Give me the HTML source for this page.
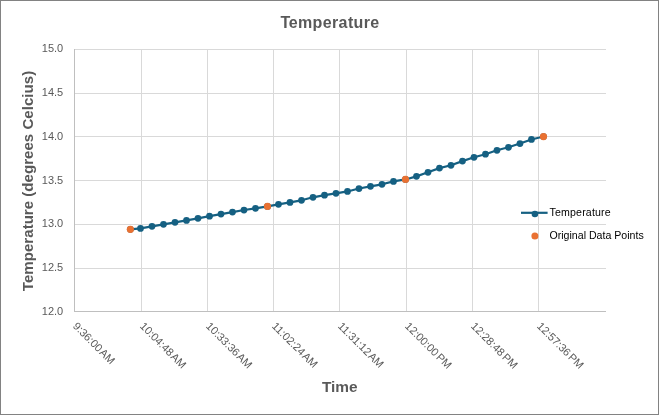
<!DOCTYPE html><html><head><meta charset="utf-8"><style>
html,body{margin:0;padding:0;background:#fff;}
body{width:659px;height:415px;overflow:hidden;position:relative;font-family:"Liberation Sans",sans-serif;}
svg{position:absolute;left:0;top:0;will-change:transform;}
text{font-family:"Liberation Sans",sans-serif;}
</style></head><body>
<svg width="659" height="415" viewBox="0 0 659 415">
<rect x="0" y="0" width="659" height="415" fill="#fff"/>
<path d="M74 49.5H606 M74 93.5H606 M74 136.5H606 M74 180.5H606 M74 224.5H606 M74 268.5H606 M74 311.5H606 M74.5 49V312 M141.5 49V312 M207.5 49V312 M273.5 49V312 M339.5 49V312 M406.5 49V312 M472.5 49V312 M538.5 49V312" stroke="#D9D9D9" stroke-width="1" fill="none" shape-rendering="crispEdges"/>
<path d="M74.5 49V312M74 311.5H606" stroke="#BFBFBF" stroke-width="1" fill="none" shape-rendering="crispEdges"/>
<text x="330" y="27.8" text-anchor="middle" font-size="16" font-weight="bold" fill="#595959"><tspan letter-spacing="-1.4">T</tspan><tspan letter-spacing="0.37">emperature</tspan></text>
<text x="63.2" y="52.2" text-anchor="end" font-size="11" fill="#595959">15.0</text>
<text x="63.2" y="96.2" text-anchor="end" font-size="11" fill="#595959">14.5</text>
<text x="63.2" y="140.2" text-anchor="end" font-size="11" fill="#595959">14.0</text>
<text x="63.2" y="184.2" text-anchor="end" font-size="11" fill="#595959">13.5</text>
<text x="63.2" y="227.3" text-anchor="end" font-size="11" fill="#595959">13.0</text>
<text x="63.2" y="271.3" text-anchor="end" font-size="11" fill="#595959">12.5</text>
<text x="63.2" y="315.0" text-anchor="end" font-size="11" fill="#595959">12.0</text>
<text transform="translate(33.2 181) rotate(-90)" text-anchor="middle" font-size="15.1" font-weight="bold" fill="#595959">Temperature (degrees Celcius)</text>
<text x="339.8" y="392" text-anchor="middle" font-size="15.4" font-weight="bold" fill="#595959">Time</text>
<text transform="translate(75.2 324.0) rotate(45)" font-size="11" letter-spacing="-0.06" fill="#595959" dominant-baseline="central">9:36:00<tspan dx="-1.3"> AM</tspan></text>
<text transform="translate(142.2 324.0) rotate(45)" font-size="11" letter-spacing="-0.06" fill="#595959" dominant-baseline="central">10:04:48<tspan dx="-1.3"> AM</tspan></text>
<text transform="translate(208.2 324.0) rotate(45)" font-size="11" letter-spacing="-0.06" fill="#595959" dominant-baseline="central">10:33:36<tspan dx="-1.3"> AM</tspan></text>
<text transform="translate(274.2 324.0) rotate(45)" font-size="11" letter-spacing="-0.06" fill="#595959" dominant-baseline="central">11:02:24<tspan dx="-1.3"> AM</tspan></text>
<text transform="translate(340.2 324.0) rotate(45)" font-size="11" letter-spacing="-0.06" fill="#595959" dominant-baseline="central">11:31:12<tspan dx="-1.3"> AM</tspan></text>
<text transform="translate(407.2 324.0) rotate(45)" font-size="11" letter-spacing="-0.06" fill="#595959" dominant-baseline="central">12:00:00<tspan dx="-1.3"> PM</tspan></text>
<text transform="translate(473.2 324.0) rotate(45)" font-size="11" letter-spacing="-0.06" fill="#595959" dominant-baseline="central">12:28:48<tspan dx="-1.3"> PM</tspan></text>
<text transform="translate(539.2 324.0) rotate(45)" font-size="11" letter-spacing="-0.06" fill="#595959" dominant-baseline="central">12:57:36<tspan dx="-1.3"> PM</tspan></text>
<path d="M130.37 229.30 L140.50 228.45 L152.00 226.35 L163.50 224.30 L175.00 222.30 L186.49 220.40 L197.99 218.35 L209.49 216.20 L220.99 214.10 L232.49 212.10 L243.99 210.00 L255.49 208.30 L267.50 206.45 L278.48 204.30 L289.98 202.40 L301.48 200.30 L312.98 197.30 L324.48 195.20 L335.97 193.30 L347.47 191.45 L358.97 188.50 L370.47 186.30 L381.97 184.30 L393.47 181.40 L405.50 179.45 L416.46 176.35 L427.96 172.30 L439.46 168.10 L450.96 165.30 L462.46 161.10 L473.96 157.30 L485.45 154.20 L496.95 150.30 L508.45 147.30 L519.95 143.50 L531.45 139.45 L543.50 136.55" stroke="#156082" stroke-width="2.2" fill="none" stroke-linejoin="round" stroke-linecap="round"/>
<circle cx="130.37" cy="229.30" r="3.375" fill="#156082"/>
<circle cx="140.50" cy="228.45" r="3.375" fill="#156082"/>
<circle cx="152.00" cy="226.35" r="3.375" fill="#156082"/>
<circle cx="163.50" cy="224.30" r="3.375" fill="#156082"/>
<circle cx="175.00" cy="222.30" r="3.375" fill="#156082"/>
<circle cx="186.49" cy="220.40" r="3.375" fill="#156082"/>
<circle cx="197.99" cy="218.35" r="3.375" fill="#156082"/>
<circle cx="209.49" cy="216.20" r="3.375" fill="#156082"/>
<circle cx="220.99" cy="214.10" r="3.375" fill="#156082"/>
<circle cx="232.49" cy="212.10" r="3.375" fill="#156082"/>
<circle cx="243.99" cy="210.00" r="3.375" fill="#156082"/>
<circle cx="255.49" cy="208.30" r="3.375" fill="#156082"/>
<circle cx="267.50" cy="206.45" r="3.375" fill="#156082"/>
<circle cx="278.48" cy="204.30" r="3.375" fill="#156082"/>
<circle cx="289.98" cy="202.40" r="3.375" fill="#156082"/>
<circle cx="301.48" cy="200.30" r="3.375" fill="#156082"/>
<circle cx="312.98" cy="197.30" r="3.375" fill="#156082"/>
<circle cx="324.48" cy="195.20" r="3.375" fill="#156082"/>
<circle cx="335.97" cy="193.30" r="3.375" fill="#156082"/>
<circle cx="347.47" cy="191.45" r="3.375" fill="#156082"/>
<circle cx="358.97" cy="188.50" r="3.375" fill="#156082"/>
<circle cx="370.47" cy="186.30" r="3.375" fill="#156082"/>
<circle cx="381.97" cy="184.30" r="3.375" fill="#156082"/>
<circle cx="393.47" cy="181.40" r="3.375" fill="#156082"/>
<circle cx="405.50" cy="179.45" r="3.375" fill="#156082"/>
<circle cx="416.46" cy="176.35" r="3.375" fill="#156082"/>
<circle cx="427.96" cy="172.30" r="3.375" fill="#156082"/>
<circle cx="439.46" cy="168.10" r="3.375" fill="#156082"/>
<circle cx="450.96" cy="165.30" r="3.375" fill="#156082"/>
<circle cx="462.46" cy="161.10" r="3.375" fill="#156082"/>
<circle cx="473.96" cy="157.30" r="3.375" fill="#156082"/>
<circle cx="485.45" cy="154.20" r="3.375" fill="#156082"/>
<circle cx="496.95" cy="150.30" r="3.375" fill="#156082"/>
<circle cx="508.45" cy="147.30" r="3.375" fill="#156082"/>
<circle cx="519.95" cy="143.50" r="3.375" fill="#156082"/>
<circle cx="531.45" cy="139.45" r="3.375" fill="#156082"/>
<circle cx="543.50" cy="136.55" r="3.375" fill="#156082"/>
<circle cx="130.37" cy="229.30" r="3.6" fill="#E97132"/>
<circle cx="267.50" cy="206.45" r="3.6" fill="#E97132"/>
<circle cx="405.50" cy="179.45" r="3.6" fill="#E97132"/>
<circle cx="543.50" cy="136.55" r="3.6" fill="#E97132"/>
<path d="M521 212.8H547.6" stroke="#156082" stroke-width="2.2"/>
<circle cx="534.9" cy="214.0" r="3.3" fill="#156082"/>
<circle cx="534.9" cy="236.0" r="3.5" fill="#E97132"/>
<text x="549.5" y="216" font-size="10.6" letter-spacing="0.17" fill="#000">Temperature</text>
<text x="549.5" y="238.7" font-size="10.6" fill="#000">Original Data Points</text>
<rect x="0.5" y="0.5" width="658" height="414" fill="none" stroke="#828282" stroke-width="1" shape-rendering="crispEdges"/>
</svg></body></html>
